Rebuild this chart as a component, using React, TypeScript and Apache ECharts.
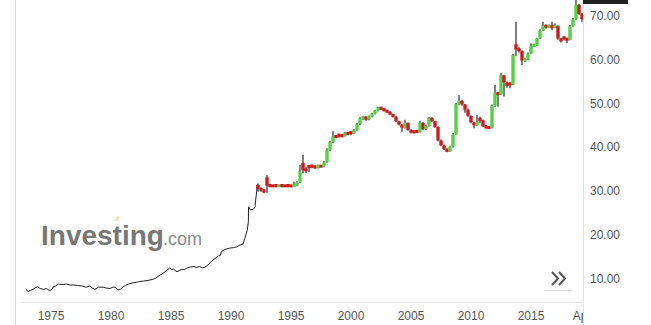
import React, { useEffect, useRef } from "react";
import * as echarts from "echarts";

// Early history drawn as a plain line (year, price)
const lineTimes = [
  1972.9, 1973.1, 1973.3, 1973.5, 1973.7, 1973.9, 1974.1, 1974.35, 1974.6, 1974.85,
  1975.05, 1975.2, 1975.4, 1975.6, 1975.9, 1976.3, 1976.6, 1976.85, 1977.2, 1977.55,
  1977.95, 1978.25, 1978.45, 1978.65, 1978.95, 1979.35, 1979.6, 1979.9, 1980.15, 1980.35,
  1980.6, 1980.8, 1981.0, 1981.2, 1981.45, 1981.85, 1982.1, 1982.4, 1982.7, 1983.0,
  1983.5, 1983.75, 1984.0, 1984.25, 1984.5, 1984.7, 1984.9, 1985.05, 1985.2, 1985.5,
  1985.7, 1985.9, 1986.1, 1986.3, 1986.6, 1986.9, 1987.1, 1987.4, 1987.6, 1987.8,
  1988.1, 1988.3, 1988.5, 1988.75, 1988.95, 1989.1, 1989.2, 1989.5, 1989.9, 1990.2,
  1990.5, 1990.75, 1991.0, 1991.15, 1991.35, 1991.45, 1991.46, 1991.6, 1991.85, 1992.0,
  1992.05, 1992.14, 1992.16,
];
const lineValues = [
  7.7, 7.2, 7.5, 7.7, 8.1, 8.3, 7.9, 7.7, 7.9, 7.5,
  7.6, 8.3, 8.5, 8.9, 8.8, 8.9, 8.7, 8.7, 8.6, 8.5,
  8.2, 8.5, 8.0, 7.7, 8.2, 8.2, 8.0, 7.9, 8.2, 8.2,
  7.6, 7.8, 8.2, 8.6, 8.9, 9.2, 9.3, 9.5, 9.6, 9.7,
  10.0, 10.3, 10.8, 11.2, 11.7, 12.2, 12.6, 12.2, 12.3, 11.7,
  12.0, 12.3, 12.2, 12.5, 12.8, 12.9, 12.7, 12.9, 12.6, 12.7,
  13.3, 13.8, 14.4, 14.9, 15.3, 15.4, 16.3, 16.8, 17.1, 17.2,
  17.4, 17.8, 18.0, 19.3, 21.1, 23.1, 26.5, 25.8, 25.9, 26.5,
  28.0, 29.9, 31.5,
];

// Quarterly candles (year, open, close, low, high)
const candleTimes = [
  1992.25, 1992.5, 1992.75, 1993.0, 1993.25, 1993.5, 1993.75, 1994.0, 1994.25, 1994.5,
  1994.75, 1995.0, 1995.25, 1995.5, 1995.75, 1996.0, 1996.25, 1996.5, 1996.75, 1997.0,
  1997.25, 1997.5, 1997.75, 1998.0, 1998.25, 1998.5, 1998.75, 1999.0, 1999.25, 1999.5,
  1999.75, 2000.0, 2000.25, 2000.5, 2000.75, 2001.0, 2001.25, 2001.5, 2001.75, 2002.0,
  2002.25, 2002.5, 2002.75, 2003.0, 2003.25, 2003.5, 2003.75, 2004.0, 2004.25, 2004.5,
  2004.75, 2005.0, 2005.25, 2005.5, 2005.75, 2006.0, 2006.25, 2006.5, 2006.75, 2007.0,
  2007.25, 2007.5, 2007.75, 2008.0, 2008.25, 2008.5, 2008.75, 2009.0, 2009.25, 2009.5,
  2009.75, 2010.0, 2010.25, 2010.5, 2010.75, 2011.0, 2011.25, 2011.5, 2011.75, 2012.0,
  2012.25, 2012.5, 2012.75, 2013.0, 2013.25, 2013.5, 2013.75, 2014.0, 2014.25, 2014.5,
  2014.75, 2015.0, 2015.25, 2015.5, 2015.75, 2016.0, 2016.25, 2016.5, 2016.75, 2017.0,
  2017.25, 2017.5, 2017.75, 2018.0, 2018.25, 2018.5, 2018.75, 2019.0, 2019.25,
];
const candleOpen = [
  31.5, 30.6, 30.4, 33.2, 31.5, 31.4, 31.5, 31.1, 31.5, 31.4,
  31.5, 31.4, 31.3, 31.4, 32.0, 36.5, 35.2, 35.8, 35.9, 35.7,
  35.4, 35.8, 35.7, 36.6, 39.4, 41.2, 42.6, 42.9, 42.7, 42.6,
  43.4, 43.5, 43.3, 43.9, 45.3, 46.6, 46.9, 46.4, 47.1, 47.7,
  48.4, 49.1, 48.8, 48.4, 48.1, 47.6, 47.0, 46.0, 45.2, 44.5,
  45.6, 44.0, 43.7, 43.8, 43.5, 45.6, 44.2, 44.9, 46.7, 46.0,
  44.7, 41.6, 40.5, 39.6, 39.1, 40.2, 43.0, 49.8, 50.6, 49.8,
  48.6, 47.2, 45.7, 45.0, 46.6, 46.2, 44.8, 44.6, 44.5, 49.5,
  52.5, 52.0, 56.4, 54.8, 54.6, 54.3, 63.5, 62.5, 62.0, 59.8,
  60.0, 61.3, 63.2, 63.2, 64.8, 66.6, 67.8, 67.4, 67.6, 67.4,
  67.6, 64.8, 65.1, 64.8, 64.5, 67.6, 69.2, 72.5, 70.4,
];
const candleClose = [
  30.6, 30.4, 29.8, 31.3, 31.2, 31.1, 31.2, 31.4, 31.2, 31.1,
  31.2, 31.1, 31.4, 32.0, 34.6, 34.8, 34.6, 35.5, 35.6, 35.4,
  35.8, 35.7, 36.6, 39.4, 41.2, 42.6, 42.4, 42.7, 42.6, 43.4,
  43.0, 43.3, 43.9, 45.3, 46.6, 46.9, 46.4, 47.1, 47.7, 48.4,
  49.1, 48.8, 48.4, 48.1, 47.6, 47.0, 46.0, 45.2, 44.5, 45.6,
  44.0, 43.4, 43.4, 43.5, 45.6, 44.2, 44.9, 46.7, 46.0, 44.7,
  41.6, 40.5, 39.6, 39.1, 40.2, 43.0, 49.8, 50.6, 49.8, 48.6,
  47.2, 45.7, 45.0, 45.8, 46.2, 44.8, 44.6, 44.5, 49.5, 52.5,
  52.0, 56.4, 54.8, 54.0, 54.3, 61.0, 62.3, 62.0, 59.8, 60.0,
  61.3, 63.2, 63.2, 64.8, 66.6, 67.8, 67.4, 67.6, 67.4, 67.6,
  64.8, 64.2, 64.8, 64.5, 67.6, 69.2, 72.5, 70.4, 69.2,
];
const candleLow = [
  29.9, 29.9, 29.6, 29.7, 30.9, 31.0, 30.9, 31.0, 30.9, 31.0,
  30.9, 31.0, 31.1, 31.3, 31.9, 34.2, 34.2, 34.4, 35.3, 35.2,
  35.3, 35.5, 35.6, 36.5, 39.2, 41.0, 42.1, 42.2, 42.4, 42.5,
  42.8, 42.8, 43.1, 43.8, 45.1, 46.3, 46.1, 46.2, 46.9, 47.5,
  48.2, 48.6, 48.2, 47.9, 47.4, 46.8, 45.8, 45.0, 43.6, 44.3,
  43.8, 43.2, 43.2, 43.3, 43.4, 43.9, 44.0, 44.8, 45.8, 44.5,
  41.4, 40.3, 39.4, 38.9, 39.0, 40.0, 42.9, 49.6, 49.5, 47.9,
  47.0, 45.5, 44.4, 44.9, 45.5, 44.6, 44.3, 44.3, 44.4, 49.3,
  49.3, 51.9, 51.6, 53.6, 53.5, 54.2, 60.8, 61.6, 58.8, 59.5,
  59.9, 61.2, 62.9, 63.1, 64.7, 66.5, 67.1, 67.2, 66.7, 67.2,
  64.5, 63.9, 64.4, 63.7, 64.4, 67.5, 69.1, 70.1, 68.6,
];
const candleHigh = [
  31.8, 30.9, 30.5, 33.7, 31.6, 31.5, 31.6, 31.5, 31.6, 31.5,
  31.6, 31.5, 32.2, 32.3, 36.0, 38.3, 35.6, 36.0, 36.1, 35.9,
  36.1, 36.0, 36.9, 39.8, 41.5, 43.7, 42.9, 43.1, 43.1, 43.6,
  43.6, 43.6, 44.2, 45.6, 46.9, 47.2, 47.1, 47.3, 47.9, 48.6,
  49.3, 49.2, 48.9, 48.6, 48.2, 47.7, 47.1, 46.1, 45.3, 46.3,
  45.7, 44.1, 43.9, 44.0, 46.1, 45.8, 45.2, 46.9, 46.9, 46.1,
  44.8, 41.8, 40.7, 39.8, 40.4, 43.3, 50.1, 51.9, 50.8, 49.9,
  48.9, 47.3, 45.8, 47.4, 47.0, 46.3, 45.1, 44.8, 49.8, 54.2,
  52.7, 56.9, 56.5, 55.0, 54.8, 61.3, 68.6, 62.8, 62.1, 60.4,
  61.6, 63.7, 63.6, 65.0, 66.9, 68.6, 68.0, 68.0, 68.6, 68.2,
  67.8, 65.0, 65.3, 65.0, 67.9, 69.5, 74.0, 72.7, 70.6,
];

const xTickValues = [1975, 1980, 1985, 1990, 1995, 2000, 2005, 2010, 2015, 2019.25];
const xTickLabels = ["1975", "1980", "1985", "1990", "1995", "2000", "2005", "2010", "2015", "Apr"];
const yTickValues = [10, 20, 30, 40, 50, 60, 70];

const GREEN = "#55d147";
const RED = "#cf1a1a";
const FONT = "'Liberation Sans', Arial, sans-serif";

export default function App() {
  const ref = useRef<HTMLDivElement>(null);
  useEffect(() => {
    document.body.style.margin = "0";
    const chart = echarts.init(ref.current!, null, { renderer: "svg" });
    const lineData = lineTimes.map((t, i) => [t, lineValues[i]]);
    const candleData = candleTimes.map((t, i) => [t, candleOpen[i], candleClose[i], candleLow[i], candleHigh[i]]);
    const option: any = {
      animation: false,
      backgroundColor: "#ffffff",
      grid: { left: 16, right: 68, top: 0, bottom: 23 },
      xAxis: {
        type: "value",
        min: 1972.0833,
        max: 2019.3333,
        axisLine: { show: false },
        axisTick: { show: false },
        splitLine: { show: false },
        axisLabel: {
          customValues: xTickValues,
          formatter: (v: number) => {
            const i = xTickValues.findIndex((x) => Math.abs(x - v) < 0.01);
            return i >= 0 ? xTickLabels[i] : "";
          },
          color: "#555",
          fontSize: 12,
          fontFamily: FONT,
          margin: 8,
        },
      },
      yAxis: {
        type: "value",
        position: "right",
        min: 4.83,
        max: 73.57,
        axisLine: { show: false },
        axisTick: { show: false },
        splitLine: { show: false },
        axisLabel: {
          customValues: yTickValues,
          formatter: (v: number) => v.toFixed(2),
          color: "#555",
          fontSize: 12,
          fontFamily: FONT,
          margin: 7,
        },
      },
      series: [
        {
          type: "line",
          data: lineData,
          showSymbol: false,
          lineStyle: { color: "#222", width: 1 },
          z: 3,
        },
        {
          type: "custom",
          data: candleData,
          encode: { x: 0, y: [1, 2, 3, 4] },
          clip: true,
          z: 4,
          renderItem: (params: any, api: any) => {
            const t = api.value(0);
            const o = api.value(1);
            const c = api.value(2);
            const l = api.value(3);
            const h = api.value(4);
            const pO = api.coord([t, o]);
            const pC = api.coord([t, c]);
            const pL = api.coord([t, l]);
            const pH = api.coord([t, h]);
            const w = 3.4;
            const mid = (pO[1] + pC[1]) / 2;
            const ht = Math.max(Math.abs(pO[1] - pC[1]), 3);
            return {
              type: "group",
              children: [
                {
                  type: "line",
                  shape: { x1: pH[0], y1: pH[1], x2: pL[0], y2: pL[1] },
                  style: { stroke: "#2a2a2a", lineWidth: 1.2 },
                },
                {
                  type: "rect",
                  shape: { x: pO[0] - w / 2, y: mid - ht / 2, width: w, height: ht },
                  style: { fill: c >= o ? GREEN : RED },
                },
              ],
            };
          },
        },
      ],
      graphic: [
        {
          type: "text",
          left: 41,
          top: 221,
          z: 1,
          style: { text: "Investing", font: `bold 28px ${FONT}`, fill: "#777777" },
        },
        {
          type: "text",
          left: 163,
          top: 230,
          z: 1,
          style: { text: ".com", font: `18px ${FONT}`, fill: "#8a8a8a" },
        },
        {
          type: "polygon",
          shape: { points: [[114, 221], [117, 216], [120, 217], [118, 221]] },
          style: { fill: "#f6d98a", opacity: 0.7 },
          z: 1,
        },
        {
          type: "polyline",
          shape: { points: [[552, 272], [558, 278.5], [552, 285]] },
          style: { stroke: "#555", lineWidth: 2, fill: null },
          z: 50,
        },
        {
          type: "polyline",
          shape: { points: [[559, 272], [565, 278.5], [559, 285]] },
          style: { stroke: "#555", lineWidth: 2, fill: null },
          z: 50,
        },
        {
          type: "line",
          shape: { x1: 544, y1: 290.5, x2: 572, y2: 290.5 },
          style: { stroke: "#dddddd", lineWidth: 1 },
          z: 50,
        },
        {
          type: "rect",
          shape: { x: 583, y: 303, width: 68, height: 22 },
          style: { fill: "#ffffff" },
          z: 90,
        },
        {
          type: "line",
          shape: { x1: 15.5, y1: 0, x2: 15.5, y2: 325 },
          style: { stroke: "#d4d4d4", lineWidth: 1 },
          z: 100,
        },
        {
          type: "line",
          shape: { x1: 583.5, y1: 0, x2: 583.5, y2: 325 },
          style: { stroke: "#e2e2e2", lineWidth: 1 },
          z: 100,
        },
        {
          type: "line",
          shape: { x1: 22, y1: 302.5, x2: 583, y2: 302.5 },
          style: { stroke: "#e6e6e6", lineWidth: 1 },
          z: 100,
        },
        {
          type: "rect",
          shape: { x: 583, y: 0, width: 45, height: 4 },
          style: { fill: "#222222" },
          z: 100,
        },
      ],
    };
    chart.setOption(option);
    return () => chart.dispose();
  }, []);
  return <div ref={ref} style={{ width: 651, height: 325, background: "#fff" }} />;
}
